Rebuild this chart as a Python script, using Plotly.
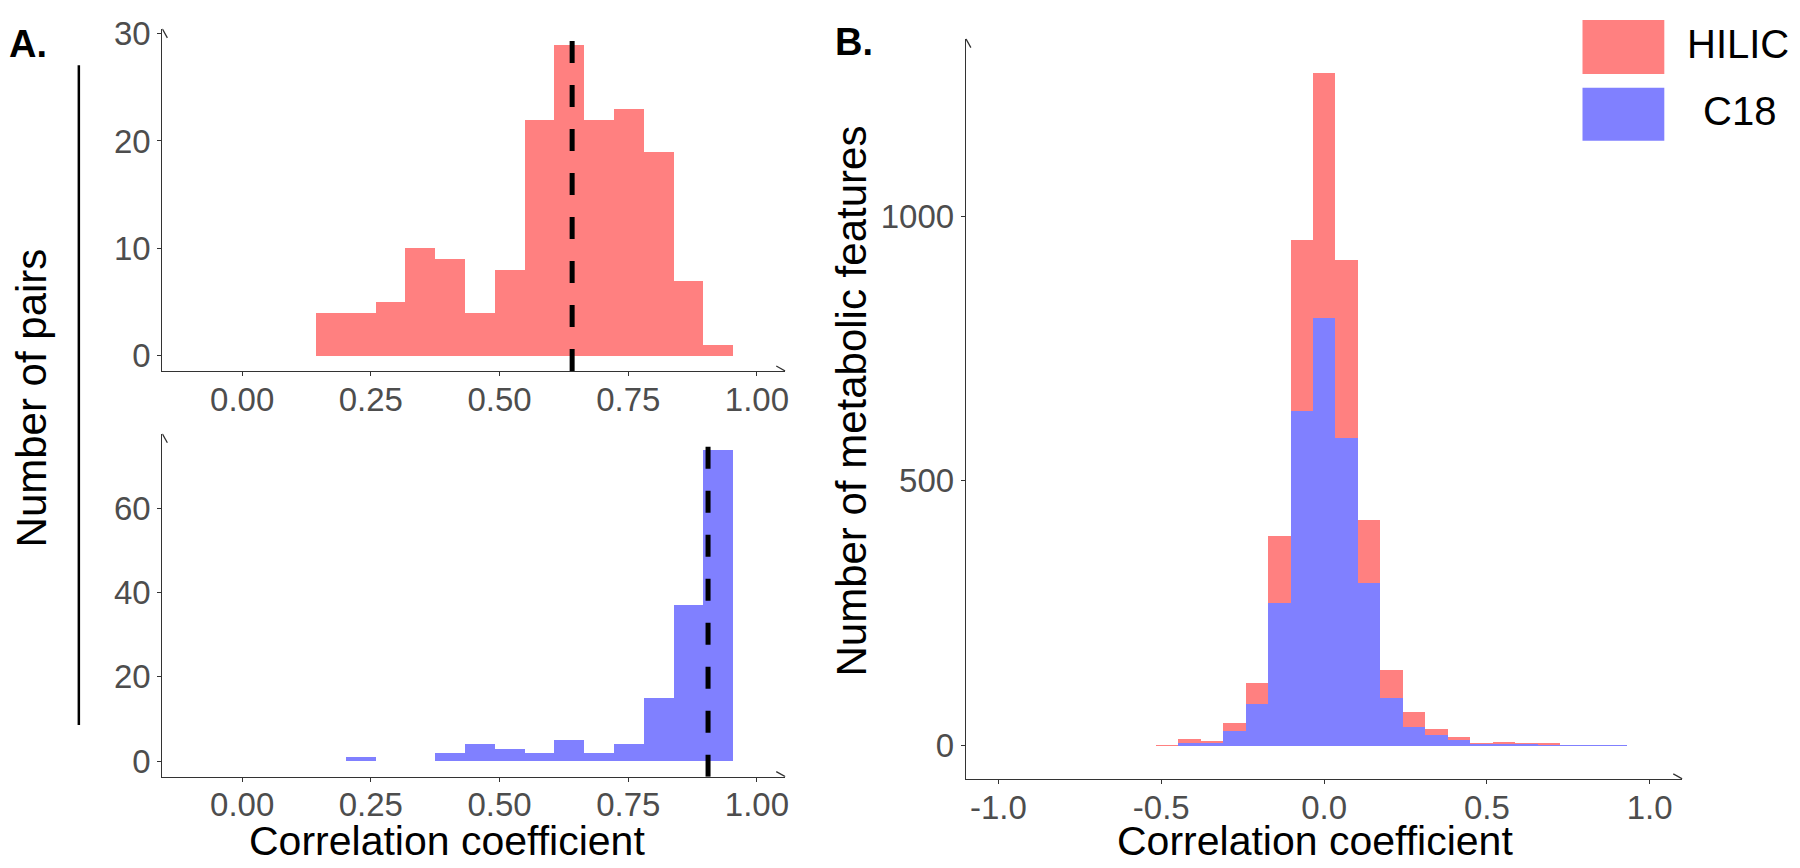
import plotly.graph_objects as go

# ---------------- data ----------------
# Panel A: pairs correlation histograms (bin centers, counts)
pair_bin_centers = [0.1730, 0.2309, 0.2888, 0.3467, 0.4046, 0.4625, 0.5204,
                    0.5783, 0.6362, 0.6941, 0.7520, 0.8099, 0.8678, 0.9257]
pair_bin_width = 0.0579
hilic_pair_counts = [4, 4, 5, 10, 9, 4, 8, 22, 29, 22, 23, 19, 7, 1]
c18_pair_counts = [0, 1, 0, 0, 2, 4, 3, 2, 5, 2, 4, 15, 37, 74]
hilic_pair_median = 0.641
c18_pair_median = 0.905

# Panel B: metabolic features correlation histograms
feat_bin_centers = [-0.4828, -0.4138, -0.3448, -0.2759, -0.2069, -0.1379, -0.0690,
                    0.0000, 0.0690, 0.1379, 0.2069, 0.2759, 0.3448, 0.4138,
                    0.4828, 0.5517, 0.6207, 0.6897, 0.7586, 0.8276, 0.8966]
feat_bin_width = 0.06897
hilic_feat_counts = [1, 12, 9, 42, 118, 397, 956, 1273, 919, 427, 143, 63, 32, 17,
                     4, 6, 4, 4, 0, 0, 0]
c18_feat_counts = [0, 4, 5, 28, 78, 270, 632, 809, 582, 308, 90, 35, 20, 11,
                   3, 3, 2, 1, 1, 1, 1]

series_names = ["HILIC", "C18"]
series_colors = ["#FF8080", "#8080FF"]

a_xticks = [0, 0.25, 0.5, 0.75, 1.0]
a_xticktext = ["0.00", "0.25", "0.50", "0.75", "1.00"]
a_top_yticks = [0, 10, 20, 30]
a_bot_yticks = [0, 20, 40, 60]
b_xticks = [-1.0, -0.5, 0.0, 0.5, 1.0]
b_xticktext = ["-1.0", "-0.5", "0.0", "0.5", "1.0"]
b_yticks = [0, 500, 1000]

x_title = "Correlation coefficient"
a_y_title = "Number of pairs"
b_y_title = "Number of metabolic features"

# ---------------- layout helpers ----------------
W, H = 1800, 868
OFF = 8  # default page body margin that shifts the figure
def px(x):
    return (x - OFF) / W
def py(y):
    return 1 - (y - OFF) / H

FONT = "Liberation Sans, Arial, Helvetica, sans-serif"
AXC = "#333333"
TICKC = "#4D4D4D"

a_xrange = [-0.155, 1.055]
a_top_yrange = [-1.45, 30.45]
a_bot_yrange = [-3.7, 77.7]
b_xrange = [-1.1, 1.1]
b_yrange = [-63.65, 1336.65]

fig = go.Figure()

fig.add_trace(go.Bar(x=pair_bin_centers, y=hilic_pair_counts,
                     width=[pair_bin_width] * len(pair_bin_centers),
                     marker=dict(color=series_colors[0], line=dict(width=0)),
                     xaxis="x", yaxis="y", showlegend=False, name=series_names[0]))
fig.add_trace(go.Bar(x=pair_bin_centers, y=c18_pair_counts,
                     width=[pair_bin_width] * len(pair_bin_centers),
                     marker=dict(color=series_colors[1], line=dict(width=0)),
                     xaxis="x2", yaxis="y2", showlegend=False, name=series_names[1]))
fig.add_trace(go.Bar(x=feat_bin_centers, y=hilic_feat_counts,
                     width=[feat_bin_width] * len(feat_bin_centers),
                     marker=dict(color=series_colors[0], line=dict(width=0)),
                     xaxis="x3", yaxis="y3", showlegend=False, name=series_names[0]))
fig.add_trace(go.Bar(x=feat_bin_centers, y=c18_feat_counts,
                     width=[feat_bin_width] * len(feat_bin_centers),
                     marker=dict(color=series_colors[1], line=dict(width=0)),
                     xaxis="x3", yaxis="y3", showlegend=False, name=series_names[1]))

axis_common = dict(showline=True, linecolor=AXC, linewidth=1.3, ticks="outside",
                   ticklen=4, tickwidth=1.3, tickcolor=AXC, showgrid=False,
                   zeroline=False, tickfont=dict(family=FONT, size=33, color=TICKC),
                   ticklabeloverflow="allow", fixedrange=True)
xaxis_extra = dict(ticklabelstandoff=-5)

a_xdom = [px(162.7), px(787)]
b_xdom = [px(968), px(1686)]

fig.update_layout(
    width=W, height=H, margin=dict(l=0, r=0, t=0, b=0),
    paper_bgcolor="white", plot_bgcolor="white", barmode="overlay", bargap=0,
    showlegend=False,
    xaxis=dict(domain=a_xdom, range=a_xrange, anchor="y", tickvals=a_xticks,
               ticktext=a_xticktext, **axis_common, **xaxis_extra),
    yaxis=dict(domain=[py(364), py(15)], range=a_top_yrange, anchor="x",
               tickvals=a_top_yticks, **axis_common),
    xaxis2=dict(domain=a_xdom, range=a_xrange, anchor="y2", tickvals=a_xticks,
                ticktext=a_xticktext, **axis_common, **xaxis_extra),
    yaxis2=dict(domain=[py(777.7), py(428)], range=a_bot_yrange, anchor="x2",
                tickvals=a_bot_yticks, **axis_common),
    xaxis3=dict(domain=b_xdom, range=b_xrange, anchor="y3", tickvals=b_xticks,
                ticktext=b_xticktext, **axis_common, **xaxis_extra),
    yaxis3=dict(domain=[py(780), py(25)], range=b_yrange, anchor="x3",
                tickvals=b_yticks, **axis_common),
)

shapes = []
# median dashed lines
for xr, yr, med in [("x", "y domain", hilic_pair_median), ("x2", "y2 domain", c18_pair_median)]:
    shapes.append(dict(type="line", xref=xr, yref=yr, x0=med, x1=med, y0=0, y1=1,
                       line=dict(color="black", width=5, dash="22px,22px")))

# axis arrowheads (open V)
for xr, yr, xrng, yrng in [("x", "y", a_xrange, a_top_yrange),
                           ("x2", "y2", a_xrange, a_bot_yrange),
                           ("x3", "y3", b_xrange, b_yrange)]:
    shapes.append(dict(type="path", xref=xr, yref=yr, xsizemode="pixel", ysizemode="pixel",
                       xanchor=xrng[1], yanchor=yrng[0], path="M -9 5 L 0 0 L -9 -5",
                       line=dict(color=AXC, width=1.3)))
    shapes.append(dict(type="path", xref=xr, yref=yr, xsizemode="pixel", ysizemode="pixel",
                       xanchor=xrng[0], yanchor=yrng[1], path="M -5 -9 L 0 0 L 5 -9",
                       line=dict(color=AXC, width=1.3)))

# vertical bar next to panel A y title
shapes.append(dict(type="line", xref="paper", yref="paper", x0=px(79), x1=px(79),
                   y0=py(52), y1=py(725), line=dict(color="black", width=2.5)))

# legend keys
for i, (y0, y1) in enumerate([(6, 61), (75, 129)]):
    shapes.append(dict(type="rect", xref="paper", yref="paper", x0=px(1586), x1=px(1668),
                       y0=py(y1), y1=py(y0), fillcolor=series_colors[i], line=dict(width=0)))

fig.update_layout(shapes=shapes)

ann = []
def text(t, x, y, size, angle=0, bold=False, xanchor="center"):
    ann.append(dict(text=("<b>%s</b>" % t) if bold else t, x=px(x), y=py(y),
                    xref="paper", yref="paper", showarrow=False, textangle=angle,
                    xanchor=xanchor, yanchor="middle",
                    font=dict(family=FONT, size=size, color="black")))

text(x_title, 448, 843, 41)
text(x_title, 1318, 843, 41)
text(a_y_title, 32, 391, 42, angle=-90)
text(b_y_title, 853, 395, 42, angle=-90)
text("A.", 7, 30, 38, bold=True, xanchor="left")
text("B.", 835, 28, 38, bold=True, xanchor="left")
text(series_names[0], 1742, 30, 40)
text(series_names[1], 1743, 99, 40)
fig.update_layout(annotations=ann)

fig.write_html("out.html", config={"displayModeBar": False})
